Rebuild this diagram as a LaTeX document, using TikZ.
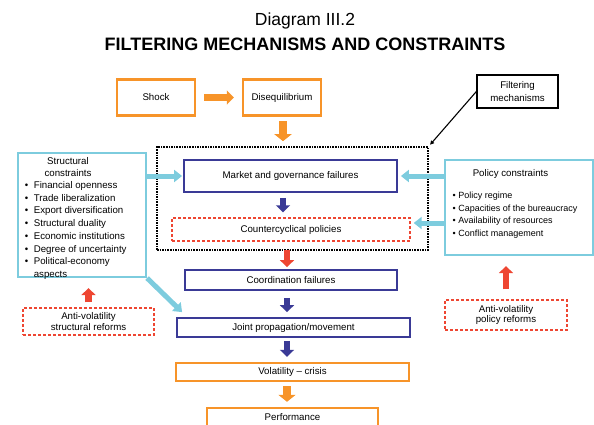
\documentclass[tikz,border=0pt]{standalone}
\usepackage{fontspec}
\setmainfont{Liberation Sans}
\usetikzlibrary{arrows.meta,calc}
\definecolor{boxorange}{RGB}{247,148,41}
\definecolor{boxsky}{RGB}{125,204,222}
\definecolor{boxnavy}{RGB}{58,58,150}
\definecolor{boxred}{RGB}{238,70,50}
\newcommand{\itm}{\textbullet\hspace{5.5pt}}
\newcommand{\pitm}{\textbullet\hspace{2.5pt}}

\begin{document}
\begin{tikzpicture}[x=1pt,y=1pt,yscale=-1,xscale=1,
    every node/.style={inner sep=0.75pt,font=\fontsize{9.7}{12}\selectfont},
    orangebox/.style={draw=boxorange,line width=2.4pt},
    navybox/.style={draw=boxnavy,line width=1.8pt},
    skybox/.style={draw=boxsky,line width=2.2pt},
    redbox/.style={draw=boxred,line width=1.4pt,dash pattern=on 3pt off 2pt},
    filterbox/.style={draw=black,line width=1.6pt,densely dotted},
    blockarrow/.style={line width=6.5pt,-{Triangle[length=7pt,width=14pt]}},
    widearrow/.style={line width=8.5pt,-{Triangle[length=7pt,width=17pt]}},
    skyarrow/.style={boxsky,line width=5pt,-{Triangle[length=8pt,width=12pt]}},
    ]
    \useasboundingbox (0,0) rectangle (594,424);
    \clip (0,0) rectangle (594,424);

    % Title
    \node[font=\fontsize{17.5}{20}\selectfont,anchor=base] (title) at (305,25) {Diagram III.2};
    \node[font=\fontsize{18}{20}\selectfont\bfseries,anchor=base] (subtitle) at (305,50) {FILTERING MECHANISMS AND CONSTRAINTS};

    %Shape: Rectangle (top row)
    \node[orangebox,minimum width=78pt,minimum height=36pt] (shock) at (156,97.5) {Shock};
    \node[orangebox,minimum width=78pt,minimum height=36pt] (diseq) at (282,97.5) {Disequilibrium};

    %Shape: Rectangle (filtering block)
    \node[filterbox,minimum width=271pt,minimum height=103pt] (filter) at (292.5,198.5) {};
    \node[navybox,minimum width=213pt,minimum height=32pt] (market) at (290.5,176) {Market and governance failures};
    \node[redbox,minimum width=238pt,minimum height=23pt] (counter) at (291,229.5) {Countercyclical policies};
    \node[draw,line width=1.3pt,minimum width=81pt,minimum height=33pt,align=center,
          font=\fontsize{9.7}{13}\selectfont] (filtlabel) at (517.5,91.5) {Filtering\\mechanisms};

    %Shape: Rectangle (lower column)
    \node[navybox,minimum width=212pt,minimum height=20pt] (coord) at (291,280) {Coordination failures};
    \node[navybox,minimum width=233pt,minimum height=19pt] (joint) at (293.5,327.5) {Joint propagation/movement};
    \node[orangebox,minimum width=233pt,minimum height=18pt] (volat) at (292.5,372) {Volatility -- crisis};
    \node[orangebox,minimum width=171pt,minimum height=18pt] (perf) at (292.5,417) {Performance};

    %Shape: Rectangle (constraints)
    \node[skybox,minimum width=128pt,minimum height=124pt] (struct) at (82,215) {};
    % Text Node
    \node[align=center] (structtitle) at (68,167) {Structural\\constraints};
    % Text Node
    \node[anchor=north west,align=left,font=\fontsize{9.7}{12.7}\selectfont] (structlist) at (24,180.6)
        {\itm Financial openness\\ \itm Trade liberalization\\ \itm Export diversification\\
         \itm Structural duality\\ \itm Economic institutions\\ \itm Degree of uncertainty\\
         \itm Political-economy\\ \phantom{\itm}aspects};

    \node[skybox,minimum width=148pt,minimum height=95pt] (policy) at (519,207.5) {};
    % Text Node
    \node (policytitle) at (510.5,174) {Policy constraints};
    % Text Node
    \node[anchor=north west,align=left,font=\fontsize{9}{12.7}\selectfont] (policylist) at (451.7,191)
        {\pitm Policy regime\\ \pitm Capacities of the bureaucracy\\
         \pitm Availability of resources\\ \pitm Conflict management};

    %Shape: Rectangle (reforms)
    \node[redbox,minimum width=131pt,minimum height=27pt,align=center,
          font=\fontsize{9.7}{10.7}\selectfont] (streform) at (88.5,321.5) {Anti-volatility\\structural reforms};
    \node[redbox,minimum width=122pt,minimum height=30pt,align=center,
          font=\fontsize{9.7}{10.5}\selectfont] (preform) at (506,315) {Anti-volatility\\policy reforms};

    % arrow columns
    \coordinate (spinetop) at (283,0);
    \coordinate (spine) at (287,0);

    % Connectors
    \draw[blockarrow,boxorange,shorten <=8pt,shorten >=8pt] (shock) -- (diseq);
    \draw[widearrow,boxorange,shorten <=4.5pt,shorten >=5pt] (diseq.south -| spinetop) -- (filter.north -| spinetop);
    \draw[blockarrow,boxnavy,shorten <=5pt,shorten >=5pt] (market.south -| spinetop) -- (counter.north -| spinetop);
    \draw[blockarrow,boxred,shorten <=8pt,shorten >=2pt] (counter.south -| spine) -- (coord.north -| spine);
    \draw[blockarrow,boxnavy,shorten <=7pt,shorten >=5pt] (coord.south -| spine) -- (joint.north -| spine);
    \draw[blockarrow,boxnavy,shorten <=3pt,shorten >=5pt] (joint.south -| spine) -- (volat.north -| spine);
    \draw[widearrow,boxorange,shorten <=4pt,shorten >=5pt] (volat.south -| spine) -- (perf.north -| spine);

    \draw[skyarrow,shorten >=1pt] (struct.east |- market.west) -- (market.west);
    \draw[skyarrow] (struct.south east) -- ($(joint.north west)+(6,-5)$);
    \draw[skyarrow,shorten >=3pt] (policy.west |- market.east) -- (market.east);
    \draw[skyarrow,shorten >=3pt] ($(policy.west |- counter.east)+(0,-6.5)$) -- ($(counter.east)+(0,-6.5)$);

    \draw[blockarrow,boxred,shorten <=5pt,shorten >=10pt] (streform.north) -- (streform.north |- struct.south);
    \draw[blockarrow,boxred,shorten <=10pt,shorten >=10pt] (preform.north) -- (preform.north |- policy.south);

    \draw[line width=1.1pt,-{Triangle[length=4pt,width=4pt]},shorten >=2pt] (filtlabel.west) -- (filter.north east);

\end{tikzpicture}
\end{document}
